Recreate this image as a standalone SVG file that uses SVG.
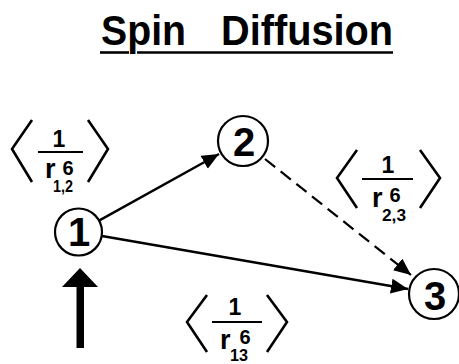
<svg xmlns="http://www.w3.org/2000/svg" width="459" height="364" viewBox="0 0 459 364">
<defs>
<style>
.t{font-family:"Liberation Sans",Arial,sans-serif;font-weight:bold;fill:#000}
.node circle{fill:#fff;stroke:#000;stroke-width:2.2}
.num{font-size:40px;text-anchor:middle}
.edge{fill:none;stroke:#000;stroke-width:2.4}
.dash{stroke-dasharray:13 7;stroke-width:2.2}
.br{fill:none;stroke:#000;stroke-width:2.6;stroke-linejoin:miter}
.frac{stroke:#000;stroke-width:2.2}
.one{font-size:23px;text-anchor:middle}
.r{font-size:27px}
.six{font-size:20px;text-anchor:middle}
.sub{font-size:17px}
</style>
<marker id="ah" markerUnits="userSpaceOnUse" markerWidth="18" markerHeight="16" refX="17" refY="7.5" orient="auto">
<path d="M0,0 L17,7.5 L0,15 Z" fill="#000"/>
</marker>
</defs>
<rect width="459" height="364" fill="#fff"/>
<g id="title">
<text class="t" y="45" font-size="42"><tspan x="101" textLength="85" lengthAdjust="spacingAndGlyphs">Spin</tspan><tspan x="221" textLength="172" lengthAdjust="spacingAndGlyphs">Diffusion</tspan></text>
<line x1="100" y1="52.5" x2="129" y2="52.5" stroke="#000" stroke-width="2.6"/>
<line x1="137" y1="52.5" x2="393" y2="52.5" stroke="#000" stroke-width="2.6"/>
</g>
<g id="connectors">
<line class="edge" x1="99" y1="220.6" x2="219" y2="154" marker-end="url(#ah)"/>
<line class="edge" x1="102" y1="236" x2="408" y2="289" marker-end="url(#ah)"/>
<line class="edge dash" x1="265" y1="159" x2="411" y2="275" marker-end="url(#ah)"/>
<path id="input-arrow" d="M76.5,348 L76.5,287 L62,287 L80,268 L98,287 L84,287 L84,348 Z" fill="#000"/>
</g>
<g id="node1" class="node">
<circle cx="78.5" cy="232" r="23.5"/>
<text class="t num" x="79" y="246">1</text>
</g>
<g id="node2" class="node">
<circle cx="243" cy="141" r="25"/>
<text class="t num" x="244" y="156">2</text>
</g>
<g id="node3" class="node">
<circle cx="434" cy="294" r="25"/>
<text class="t num" x="435" y="310">3</text>
</g>
<g id="label12">
<polyline class="br" points="32,120 12,149 32,182"/>
<polyline class="br" points="88,120 108,149 88,182"/>
<text class="t one" x="59" y="147">1</text>
<line class="frac" x1="38" y1="152" x2="83" y2="152"/>
<text class="t r" x="45" y="178">r</text>
<text class="t six" x="68" y="175">6</text>
<text class="t sub" x="53" y="192" textLength="20" lengthAdjust="spacingAndGlyphs">1,2</text>
</g>
<g id="label23">
<polyline class="br" points="357,150 337,178 357,208"/>
<polyline class="br" points="420,150 440,178 420,208"/>
<text class="t one" x="388" y="173">1</text>
<line class="frac" x1="362" y1="179" x2="413" y2="179"/>
<text class="t r" x="372" y="207">r</text>
<text class="t six" x="395" y="202">6</text>
<text class="t sub" x="382" y="221" textLength="24" lengthAdjust="spacingAndGlyphs">2,3</text>
</g>
<g id="label13">
<polyline class="br" points="207,295 187,322 207,352"/>
<polyline class="br" points="267,295 287,322 267,352"/>
<text class="t one" x="235" y="315">1</text>
<line class="frac" x1="212" y1="322" x2="262" y2="322"/>
<text class="t r" x="220" y="349">r</text>
<text class="t six" x="245" y="344">6</text>
<text class="t" x="230" y="361" font-size="16" textLength="18" lengthAdjust="spacingAndGlyphs">13</text>
</g>
</svg>
